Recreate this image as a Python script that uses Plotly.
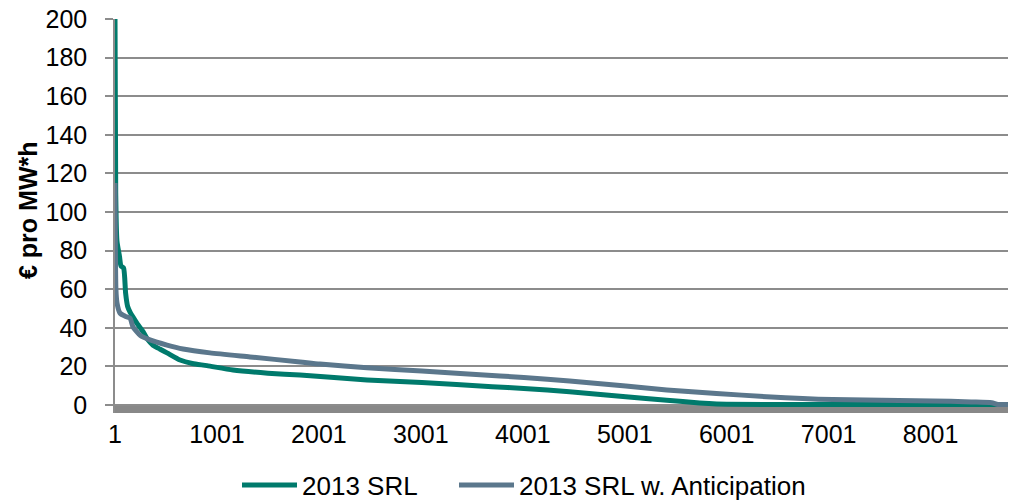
import plotly.graph_objects as go

# Hours of the year (sorted duration curve) and prices in € per MW*h
hours_srl = [1, 8, 20, 45, 60, 85, 105, 125, 150, 178, 220, 276, 320, 374, 440, 511,
             639, 760, 903, 1158, 1500, 1816, 2473, 3011, 3700, 4011, 4460, 5011,
             5413, 5735, 5903, 6400, 8760]
srl = [200, 110, 85, 77, 72, 71, 58, 51, 48, 45.5, 42, 38, 34, 31, 29, 27,
       23.3, 21.5, 20.4, 18.1, 16.5, 15.5, 13, 11.6, 9.5, 8.6, 6.9, 4.3,
       2.5, 1.0, 0.5, 0.3, 0.3]

hours_ant = [1, 5, 10, 20, 50, 100, 148, 178, 250, 344, 511, 668, 933, 1325, 1816,
             2011, 2473, 3011, 3777, 4011, 4460, 5011, 5413, 5900, 6393, 7040, 8020,
             8400, 8600, 8660, 8760]
ant = [115, 80, 60, 53, 47.6, 46, 45, 40.4, 36, 33.7, 31, 29, 27, 24.9, 22.3,
       21.2, 19.3, 17.6, 15, 14.3, 12.4, 9.8, 7.8, 6, 4.3, 2.8, 2.1,
       1.6, 1.2, 0.3, 0.3]

x_ticks = [1, 1001, 2001, 3001, 4001, 5001, 6001, 7001, 8001]
y_ticks = [0, 20, 40, 60, 80, 100, 120, 140, 160, 180, 200]

names = ["2013 SRL", "2013 SRL w. Anticipation"]
colors = ["#007A6C", "#5B778C"]

FONT = "Liberation Sans, Arial, sans-serif"

fig = go.Figure()
fig.add_trace(go.Scatter(x=hours_srl, y=srl, mode="lines", name=names[0], legend="legend",
                         line=dict(color=colors[0], width=5, shape="spline", smoothing=0.6)))
fig.add_trace(go.Scatter(x=hours_ant, y=ant, mode="lines", name=names[1], legend="legend2",
                         line=dict(color=colors[1], width=5, shape="spline", smoothing=0.6)))

fig.add_shape(type="rect", xref="x", yref="y", x0=1, x1=8760, y0=-4.15, y1=0,
              fillcolor="#888888", line=dict(width=0), layer="below")

fig.add_annotation(text="<b>€ pro MW*h</b>", textangle=-90, xref="paper", yref="paper",
                   x=(28 - 115) / 893, y=(413 - 210) / 394, xanchor="center", yanchor="middle",
                   showarrow=False, font=dict(size=25, color="black", family=FONT))

legend_common = dict(orientation="h", xref="container", yref="container",
                     y=(503 - 485) / 503, xanchor="left", yanchor="middle",
                     font=dict(size=26), itemwidth=55, bgcolor="rgba(0,0,0,0)")

fig.update_layout(
    width=1010, height=503,
    margin=dict(l=115, r=2, t=19, b=90),
    paper_bgcolor="white", plot_bgcolor="white",
    font=dict(family=FONT, size=25, color="black"),
    showlegend=True,
    legend=dict(x=237 / 1010, **legend_common),
    legend2=dict(x=454 / 1010, **legend_common),
    xaxis=dict(range=[1, 8760], tickmode="array", tickvals=x_ticks,
               ticktext=[str(v) for v in x_ticks], showgrid=False, zeroline=False,
               showline=False, ticks="", tickfont=dict(size=25), ticklabelstandoff=4),
    yaxis=dict(range=[-4.15, 200], tickmode="array", tickvals=y_ticks,
               showgrid=True, gridcolor="#8C8C8C", gridwidth=1.5, zeroline=False,
               showline=True, linecolor="#8C8C8C", linewidth=1.5,
               ticks="outside", ticklen=8, tickcolor="#8C8C8C", tickwidth=1.5,
               tickfont=dict(size=25), ticklabelstandoff=13),
)

fig.write_html("out.html")
